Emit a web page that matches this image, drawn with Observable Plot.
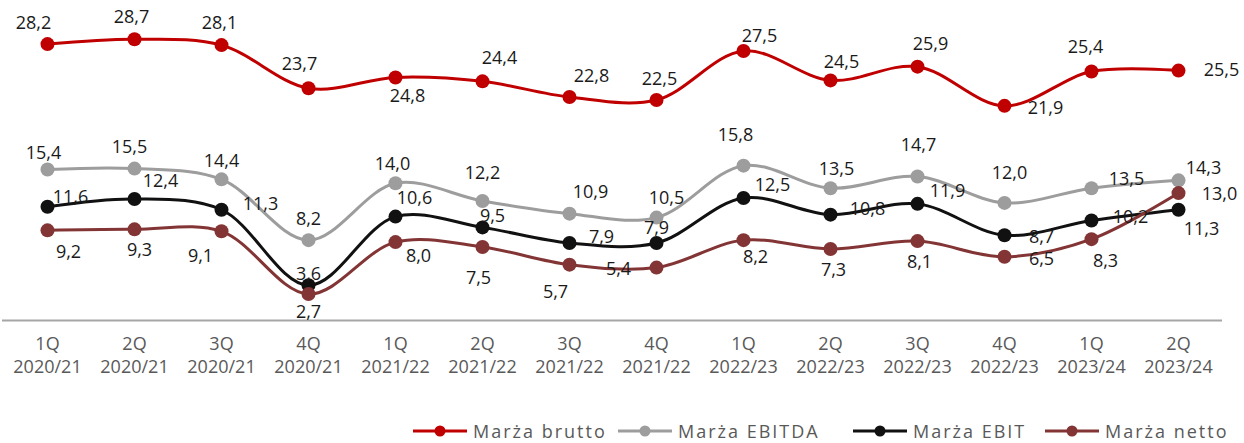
<!DOCTYPE html>
<html>
<head>
<meta charset="utf-8">
<script src="https://cdn.jsdelivr.net/npm/d3@7"></script>
<script src="https://cdn.jsdelivr.net/npm/@observablehq/plot@0.6"></script>
<style>
  html, body { margin: 0; padding: 0; background: #fff; }
  #wrap { position: relative; width: 1244px; height: 443px; }
  #legend { position: absolute; left: 0; top: 420px; width: 1244px; height: 22px; font-family: "Open Sans", sans-serif; font-size: 18px; line-height: 22px; color: #595959; letter-spacing: 2px; }
  .item { position: absolute; top: 0; display: flex; align-items: center; height: 22px; white-space: nowrap; }
  .item svg { margin-right: 6px; }
</style>
</head>
<body>
<div id="wrap"><div id="chart"></div><div id="legend"></div></div>
<script>
// ---- data ----
const quarters = ["1Q","2Q","3Q","4Q","1Q","2Q","3Q","4Q","1Q","2Q","3Q","4Q","1Q","2Q"];
const years = ["2020/21","2020/21","2020/21","2020/21","2021/22","2021/22","2021/22","2021/22","2022/23","2022/23","2022/23","2022/23","2023/24","2023/24"];
const marzaBrutto = [28.2,28.7,28.1,23.7,24.8,24.4,22.8,22.5,27.5,24.5,25.9,21.9,25.4,25.5];
const marzaEbitda = [15.4,15.5,14.4,8.2,14.0,12.2,10.9,10.5,15.8,13.5,14.7,12.0,13.5,14.3];
const marzaEbit   = [11.6,12.4,11.3,3.6,10.6,9.5,7.9,7.9,12.5,10.8,11.9,8.7,10.2,11.3];
const marzaNetto  = [9.2,9.3,9.1,2.7,8.0,7.5,5.7,5.4,8.2,7.3,8.1,6.5,8.3,13.0];
const seriesNames = ["Marża brutto","Marża EBITDA","Marża EBIT","Marża netto"];

// ---- layout / style (label placement offsets in px) ----
const colors = ["#c00000","#9d9d9d","#111111","#833434"];
const labelOffsets = [
  [[-14,-21],[-3,-22],[-2,-22],[-9,-24],[12,19],[17,-23],[22,-21],[3,-21],[16,-15],[11,-18],[13,-22],[41,2],[-6,-24],[43,0]],
  [[-4,-16],[-5,-21],[0,-18],[0,-21],[-3,-19],[0,-28],[21,-21],[10,-19],[-8,-30],[6,-19],[1,-31],[5,-30],[35,-9],[25,-12]],
  [[23,-10],[26,-18],[39,-6],[0,-11],[19,-18],[10,-11],[32,-6],[0,-15],[29,-13],[37,-5],[30,-13],[37,2],[39,-3],[23,19]],
  [[21,22],[5,21],[-21,25],[0,18],[23,14],[-4,31],[-14,28],[-38,2],[12,17],[3,21],[2,21],[37,2],[14,22],[41,1]]
];

const categories = quarters.map((q, i) => q + "\n" + years[i]);
const seriesValues = [marzaBrutto, marzaEbitda, marzaEbit, marzaNetto];
const fmt = v => v.toFixed(1).replace(".", ",");

const marks = [Plot.ruleY([0], {stroke: "#a6a6a6", strokeWidth: 2})];
seriesValues.forEach((vals, s) => {
  const data = vals.map((v, i) => ({cat: categories[i], v}));
  marks.push(Plot.line(data, {x: "cat", y: "v", stroke: colors[s], strokeWidth: 3, curve: "catmull-rom"}));
  marks.push(Plot.dot(data, {x: "cat", y: "v", fill: colors[s], r: 7}));
});
seriesValues.forEach((vals, s) => {
  vals.forEach((v, i) => {
    const [dx, dy] = labelOffsets[s][i];
    marks.push(Plot.text([{cat: categories[i], v}], {
      x: "cat", y: "v", text: d => fmt(d.v), dx, dy,
      fill: "#1a1a1a", fontSize: 18, lineAnchor: "middle", textAnchor: "middle",
      style: {letterSpacing: "1.6px"}
    }));
  });
});
marks.push(Plot.axisX({
  tickSize: 0, tickPadding: 13, fontSize: 18, lineHeight: 1.28,
  fill: "#595959", label: null
}));

const chart = Plot.plot({
  width: 1244,
  height: 400,
  marginTop: 0,
  marginBottom: 80,
  marginLeft: 2,
  marginRight: 22,
  style: {fontFamily: "'Open Sans', sans-serif", background: "#fff", overflow: "visible"},
  x: {type: "point", domain: categories, padding: 0.5, axis: null},
  y: {domain: [0, 32.65], axis: null},
  marks
});
document.getElementById("chart").appendChild(chart);

// ---- legend ----
const legendX = [413, 618, 853, 1045];
const legend = document.getElementById("legend");
seriesNames.forEach((name, s) => {
  const item = document.createElement("div");
  item.className = "item";
  item.style.left = legendX[s] + "px";
  item.innerHTML = `<svg width="54" height="14"><line x1="0" x2="54" y1="7" y2="7" stroke="${colors[s]}" stroke-width="3"/><circle cx="27" cy="7" r="5.5" fill="${colors[s]}"/></svg><span>${name}</span>`;
  legend.appendChild(item);
});
</script>
</body>
</html>
